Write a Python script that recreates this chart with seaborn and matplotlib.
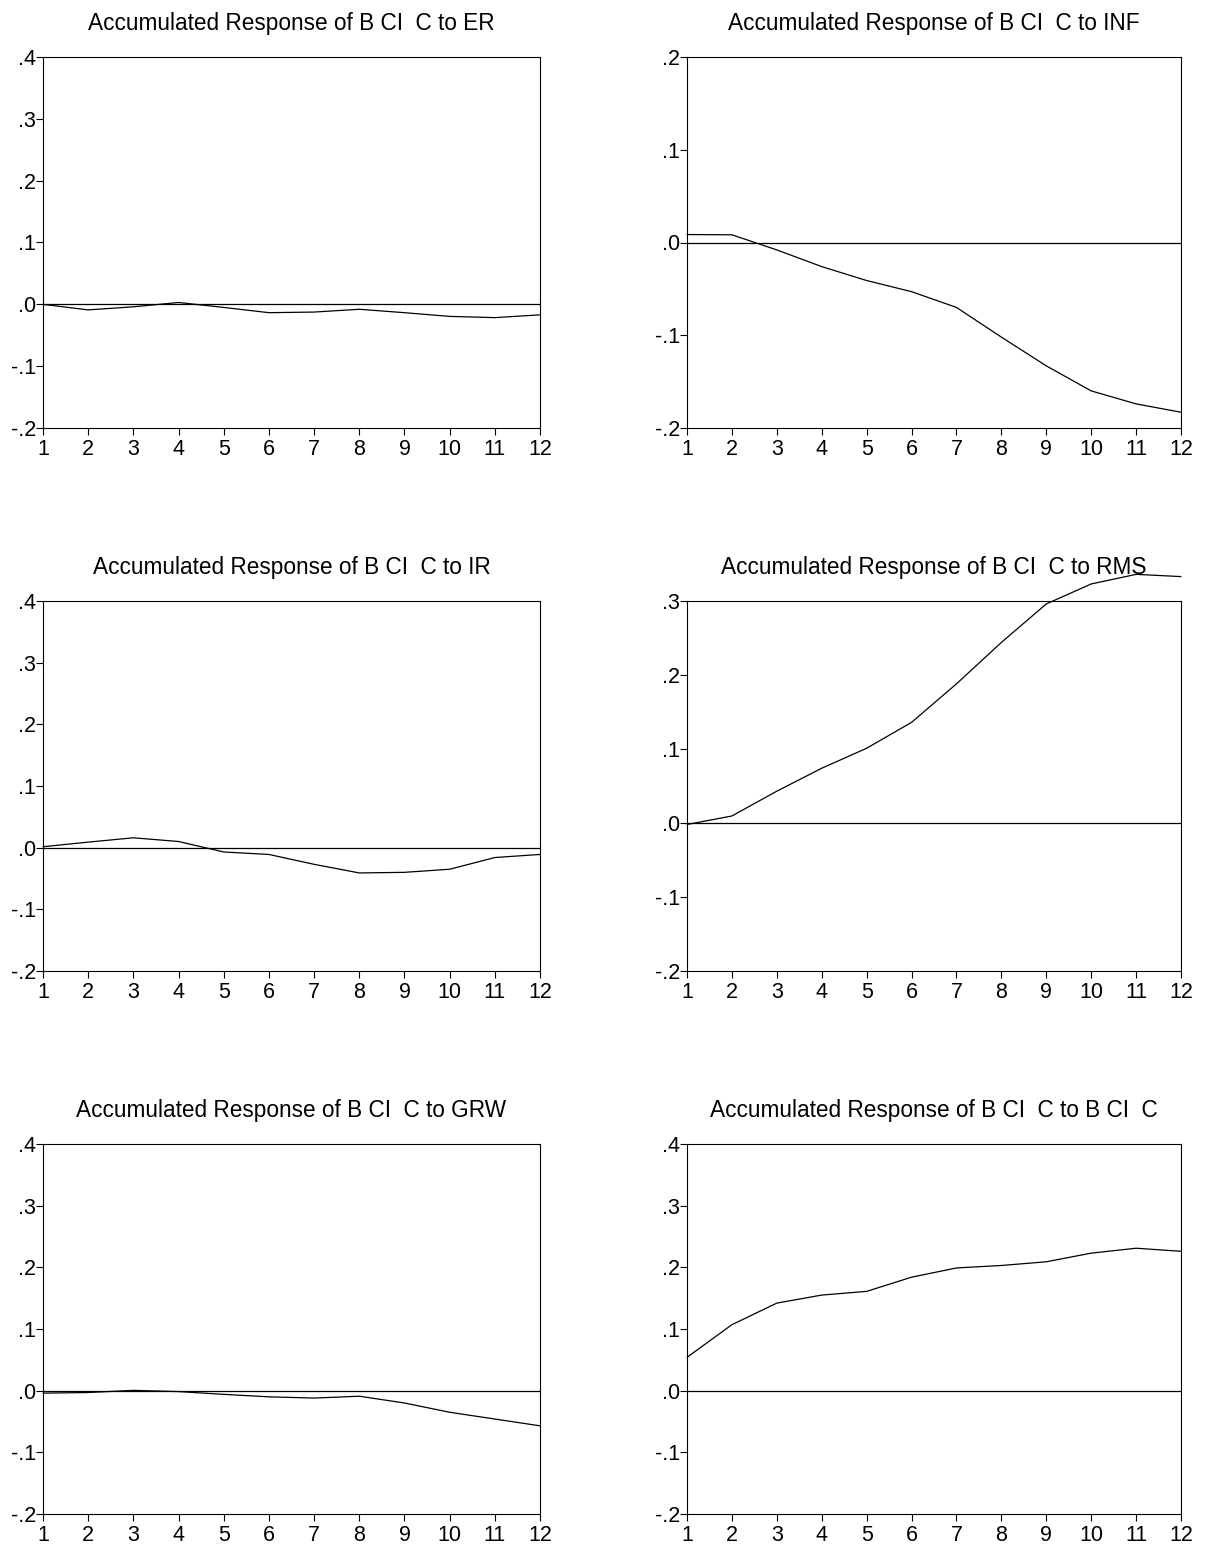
import matplotlib
matplotlib.use("Agg")
import matplotlib.pyplot as plt
import seaborn as sns
import pandas as pd
from matplotlib.ticker import FuncFormatter

sns.set_style("ticks")
plt.rcParams['font.family'] = ['Liberation Sans', 'DejaVu Sans']

periods = list(range(1, 13))

resp_er = [0.000, -0.009, -0.004, 0.003, -0.005, -0.0135, -0.0125, -0.008, -0.0135, -0.0195, -0.0215, -0.017]
resp_inf = [0.0086, 0.0083, -0.008, -0.026, -0.041, -0.053, -0.070, -0.102, -0.133, -0.160, -0.174, -0.183]
resp_ir = [0.0015, 0.009, 0.016, 0.010, -0.007, -0.011, -0.027, -0.041, -0.040, -0.035, -0.016, -0.011]
resp_rms = [-0.002, 0.0095, 0.043, 0.074, 0.101, 0.136, 0.188, 0.244, 0.296, 0.323, 0.336, 0.333]
resp_grw = [-0.004, -0.003, 0.0005, -0.0015, -0.006, -0.010, -0.012, -0.009, -0.020, -0.035, -0.046, -0.057]
resp_bcic = [0.054, 0.107, 0.142, 0.155, 0.161, 0.184, 0.199, 0.203, 0.209, 0.223, 0.231, 0.226]

titles = ["Accumulated Response of B CI  C to ER",
          "Accumulated Response of B CI  C to INF",
          "Accumulated Response of B CI  C to IR",
          "Accumulated Response of B CI  C to RMS",
          "Accumulated Response of B CI  C to GRW",
          "Accumulated Response of B CI  C to B CI  C"]
series = [resp_er, resp_inf, resp_ir, resp_rms, resp_grw, resp_bcic]
ylims = [(-0.2, 0.4), (-0.2, 0.2), (-0.2, 0.4), (-0.2, 0.3), (-0.2, 0.4), (-0.2, 0.4)]

W, H = 1208, 1546
fig = plt.figure(figsize=(W / 100, H / 100), dpi=100)

# axes boxes in pixels: (left, top, right, bottom)
lefts = [(43, 540), (687, 1181)]
rows = [(57, 428), (601, 971), (1144, 1514)]


def fmt(v, pos):
    s = "%.1f" % v
    if s.startswith("-0"):
        return "-" + s[2:]
    if s.startswith("0"):
        return s[1:]
    return s


for i, (vals, title, yl) in enumerate(zip(series, titles, ylims)):
    r, c = divmod(i, 2)
    x0, x1 = lefts[c]
    y0, y1 = rows[r]
    ax = fig.add_axes([x0 / W, (H - y1) / H, (x1 - x0) / W, (y1 - y0) / H])
    df = pd.DataFrame({"period": periods, "value": vals})
    ax.axhline(0, color="black", lw=0.9)
    sns.lineplot(data=df, x="period", y="value", ax=ax, color="black", lw=0.9)
    ax.lines[-1].set_clip_on(False)
    ax.set_xlim(1, 12)
    ax.set_ylim(*yl)
    ax.set_xticks(periods)
    n = int(round((yl[1] - yl[0]) / 0.1))
    ax.set_yticks([yl[0] + 0.1 * k for k in range(n + 1)])
    ax.yaxis.set_major_formatter(FuncFormatter(fmt))
    ax.set_xlabel("")
    ax.set_ylabel("")
    ax.tick_params(axis="both", direction="out", length=5, width=0.8, labelsize=15.5, colors="black")
    ax.tick_params(axis="x", pad=3)
    ax.tick_params(axis="y", pad=0)
    for sp in ax.spines.values():
        sp.set_linewidth(0.8)
        sp.set_color("black")
    ax.set_title(title, fontsize=16.3, pad=19.5, color="black")

fig.savefig("out.png", dpi=100)
